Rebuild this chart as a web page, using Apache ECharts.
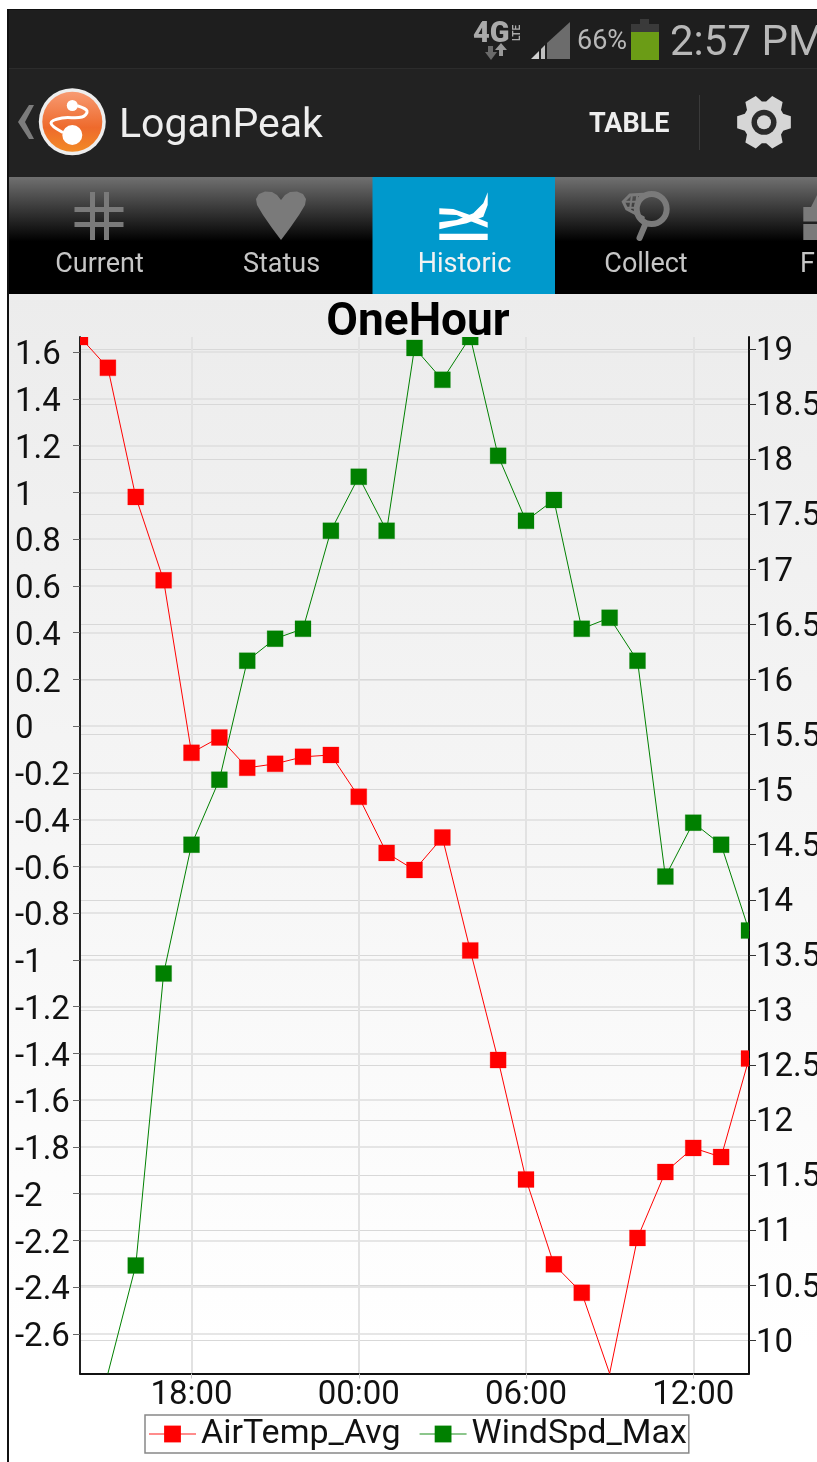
<!DOCTYPE html>
<html>
<head>
<meta charset="utf-8">
<style>
  html, body { margin: 0; padding: 0; background: #fff; overflow: hidden; }
  #chart { width: 817px; height: 1462px; }
</style>
<script src="https://cdn.jsdelivr.net/npm/echarts@6/dist/echarts.min.js"></script>
</head>
<body>
<div id="chart"></div>
<script>
const hours = ['14:00', '15:00', '16:00', '17:00', '18:00', '19:00', '20:00', '21:00', '22:00', '23:00',
  '00:00', '01:00', '02:00', '03:00', '04:00', '05:00', '06:00', '07:00', '08:00', '09:00',
  '10:00', '11:00', '12:00', '13:00', '14:00'];
const hourLabels = ['18:00', '00:00', '06:00', '12:00'];

const airTempAvg = [1.665, 1.533, 0.981, 0.624, -0.114, -0.048, -0.178, -0.161, -0.131, -0.123,
  -0.302, -0.542, -0.615, -0.476, -0.959, -1.428, -1.939, -2.302, -2.424, -2.769,
  -2.189, -1.907, -1.804, -1.843, -1.422];
const windSpdMax = [null, 9.699, 10.68, 13.33, 14.5, 15.09, 16.17, 16.37, 16.46, 17.35,
  17.84, 17.35, 19.01, 18.72, 19.109, 18.03, 17.44, 17.63, 16.46, 16.56,
  16.17, 14.21, 14.7, 14.5, 13.72];

const leftTicks = [1.6, 1.4, 1.2, 1, 0.8, 0.6, 0.4, 0.2, 0, -0.2, -0.4, -0.6, -0.8, -1, -1.2, -1.4,
  -1.6, -1.8, -2, -2.2, -2.4, -2.6];
const rightTicks = [19, 18.5, 18, 17.5, 17, 16.5, 16, 15.5, 15, 14.5, 14, 13.5, 13, 12.5, 12, 11.5,
  11, 10.5, 10];

const tabs = [['Current', 99.5], ['Status', 281.5], ['Collect', 646]];
const fontName = 'Roboto';

function rect(x, y, w, h, fill) {
  return { type: 'rect', z: -5, silent: true, shape: { x: x, y: y, width: w, height: h }, style: { fill: fill } };
}
function poly(points, fill) {
  return { type: 'polygon', z: -4, silent: true, shape: { points: points }, style: { fill: fill } };
}
function stroke(points, color, width, smooth) {
  return {
    type: 'polyline', z: -4, silent: true, shape: { points: points, smooth: smooth || 0 },
    style: { stroke: color, lineWidth: width, fill: null, lineCap: 'round' }
  };
}
function circle(cx, cy, r, fill) {
  return { type: 'circle', z: -4, silent: true, shape: { cx: cx, cy: cy, r: r }, style: { fill: fill } };
}
function label(text, x, y, size, color, align, weight) {
  return {
    type: 'text', z: -3, silent: true, x: x, y: y + size * 0.09,
    style: {
      text: text, x: 0, y: 0, fill: color, textAlign: align || 'left', textVerticalAlign: 'middle',
      font: (weight || 400) + ' ' + size + 'px ' + fontName
    }
  };
}
function gearPoints(cx, cy) {
  const pts = [];
  for (let k = 0; k < 6; k++) {
    const a = k * Math.PI / 3;
    [[21, -0.42], [27.5, -0.22], [27.5, 0.22], [21, 0.42]].forEach(p => {
      pts.push([cx + p[0] * Math.cos(a + p[1]), cy + p[0] * Math.sin(a + p[1])]);
    });
  }
  return pts;
}
function vertical(stops) {
  return { type: 'linear', x: 0, y: 0, x2: 0, y2: 1, colorStops: stops };
}

// phone chrome around the chart
const chrome = [
  rect(0, 0, 817, 1462, '#ffffff'),
  rect(9, 294, 808, 1168, vertical([{ offset: 0, color: '#ececec' }, { offset: 0.9, color: '#ffffff' }, { offset: 1, color: '#ffffff' }])),
  rect(9, 10, 808, 58, '#1e1e1e'),
  rect(9, 68, 808, 1, '#2c2c2c'),
  rect(9, 69, 808, 108, '#222222'),
  rect(9, 177, 808, 117, vertical([{ offset: 0, color: '#707070' }, { offset: 0.55, color: '#000000' }, { offset: 1, color: '#000000' }])),
  rect(372.5, 177, 182.5, 117, '#0099cc'),
  rect(7, 9, 810, 1, '#111111'),
  rect(7, 9, 2, 1453, '#111111'),

  // status bar
  label('4G', 473, 32, 29, '#aaaaaa', 'left', 900),
  {
    type: 'text', z: -3, silent: true, x: 517, y: 33, rotation: Math.PI / 2,
    style: { text: 'LTE', x: 0, y: 0, fill: '#aaaaaa', textAlign: 'center', textVerticalAlign: 'middle', font: '700 10px ' + fontName }
  },
  poly([[488, 46], [493, 46], [493, 52], [497, 52], [491, 60], [485, 52], [488, 52]], '#6a6a6a'),
  poly([[499, 56], [503, 56], [503, 50], [507, 50], [501, 43], [495, 50], [499, 50]], '#999999'),
  poly([[531, 59], [539, 51], [539, 59]], '#d0d0d0'),
  poly([[541, 59], [541, 49], [545, 45], [545, 59]], '#c0c0c0'),
  poly([[547, 59], [547, 43], [570, 22], [570, 59]], '#6c6c6c'),
  label('66%', 577, 40, 27, '#b8b8b8'),
  rect(640, 19, 9, 5, '#3a3a3a'),
  rect(631, 24, 28, 8, '#3a3a3a'),
  rect(631, 32, 28, 28, '#6b9c16'),
  label('2:57 PM', 670, 41, 42, '#b8b8b8', 'left', 400),

  // action bar
  poly([[29, 105], [34, 105], [25, 122], [34, 139], [29, 139], [18, 122]], '#7c7c7c'),
  circle(72.3, 121.7, 33.5, '#eeeeee'),
  circle(72.3, 121.7, 30, vertical([{ offset: 0, color: '#f79a72' }, { offset: 0.6, color: '#ee6a2c' }, { offset: 1, color: '#f28a26' }])),
  circle(72.3, 105.5, 5.5, '#ffffff'),
  circle(72.3, 135, 10, '#ffffff'),
  stroke([[78, 106], [87, 111], [82, 117], [62, 118], [51, 123], [62, 132]], '#ffffff', 3, 0.4),
  label('LoganPeak', 119, 123, 41, '#eeeeee', 'left', 400),
  label('TABLE', 589, 123, 27, '#eeeeee', 'left', 700),
  rect(699, 95, 1, 55, '#3a3a3a'),
  poly(gearPoints(764, 122.3), '#d6d6d6'),
  circle(764, 122.3, 12.5, '#2a2a2a'),
  circle(764, 122.3, 7, '#d6d6d6'),

  // tab bar icons
  rect(90, 192, 5, 48, '#7a7a7a'),
  rect(104, 192, 5, 48, '#7a7a7a'),
  rect(74.5, 207, 49, 5, '#7a7a7a'),
  rect(74.5, 222, 49, 5, '#7a7a7a'),
  poly([[281, 240], [272, 228], [263, 215], [257, 205], [256, 199], [259, 194], [265, 191.5], [272, 192], [277, 195], [281, 200],
    [285, 195], [290, 192], [297, 191.5], [303, 194], [306, 199], [305, 205], [299, 215], [290, 228]], '#7a7a7a'),
  rect(439.3, 233.7, 48.4, 6.3, '#ffffff'),
  poly([[439.3, 208.3], [453.3, 209], [470, 215], [487.7, 222.3], [487.7, 227.7], [473.3, 222.3], [456.7, 215], [439.3, 214.3]], '#ffffff'),
  poly([[439.3, 222.3], [456.7, 220], [473.3, 213.3], [483.3, 203.3], [487.7, 192.3], [487.7, 205], [483.3, 216.7], [466.7, 223.3], [450, 226.7], [439.3, 229.3]], '#ffffff'),
  {
    type: 'ring', z: -4, silent: true, shape: { cx: 651.7, cy: 209, r: 18, r0: 12 }, style: { fill: '#7a7a7a' }
  },
  stroke([[645, 225], [639.5, 238]], '#7a7a7a', 6),
  stroke([[643.3, 194.3], [630, 195], [623.3, 201.7], [626.7, 209], [643.3, 217.7]], '#7a7a7a', 3),
  stroke([[631.7, 196.7], [630, 210]], '#7a7a7a', 2),
  stroke([[637.3, 195], [635, 213.3]], '#7a7a7a', 2),
  stroke([[625, 201.7], [636, 201.7]], '#7a7a7a', 2),
  stroke([[626.7, 207.7], [636, 207.7]], '#7a7a7a', 2),
  rect(803.3, 207, 13.7, 14.5, '#7a7a7a'),
  rect(803.3, 224, 13.7, 16, '#7a7a7a'),
  poly([[811, 207], [817, 195], [817, 207]], '#7a7a7a'),

  label('Historic', 464.5, 263, 27, '#f2f2f2', 'center'),
  label('F', 800, 263, 27, '#c6c6c6')
];
tabs.forEach(t => chrome.push(label(t[0], t[1], 263, 27, '#c6c6c6', 'center')));

// square markers, clipped to the plot like the original. A point right on the floor gets none.
function squares(color) {
  return function (params, api) {
    const pt = api.coord([api.value(0), api.value(1)]);
    const box = params.coordSys;
    if (isNaN(pt[1]) || pt[1] >= box.y + box.height - 0.5) {
      return null;
    }
    return {
      type: 'rect',
      shape: { x: pt[0] - 8, y: pt[1] - 8, width: 16, height: 16 },
      style: { fill: color, stroke: color, lineWidth: 0.5, strokeOpacity: 0.5 }
    };
  };
}

const chart = echarts.init(document.getElementById('chart'), null, { renderer: 'canvas' });

chart.setOption({
  animation: false,
  textStyle: { fontFamily: fontName },
  graphic: { elements: chrome },
  title: {
    text: 'OneHour',
    left: 418,
    top: 300,
    padding: 0,
    textAlign: 'center',
    textStyle: { fontFamily: fontName, fontWeight: 700, fontSize: 46, color: '#000000' }
  },
  grid: { left: 80, right: 68, top: 337, bottom: 88.5, containLabel: false, outerBoundsMode: 'none' },
  legend: {
    data: ['AirTemp_Avg', 'WindSpd_Max'],
    left: 145,
    top: 1415,
    padding: [2, 2, 2, 3],
    itemWidth: 47,
    itemHeight: 21,
    itemGap: 18,
    backgroundColor: '#ffffff',
    borderColor: '#888888',
    borderWidth: 1.5,
    borderRadius: 0,
    lineStyle: { width: 2, opacity: 0.45 },
    textStyle: { fontFamily: fontName, fontSize: 34, color: '#111111', padding: 0 }
  },
  xAxis: {
    type: 'category',
    data: hours,
    boundaryGap: false,
    axisLine: { onZero: false, lineStyle: { color: '#111111', width: 2 } },
    axisTick: { length: 5, lineStyle: { color: '#cccccc' }, interval: (i, v) => hourLabels.includes(v) },
    splitLine: { show: true, lineStyle: { color: '#e2e2e2', width: 2 }, interval: (i, v) => hourLabels.includes(v) },
    axisLabel: {
      interval: (i, v) => hourLabels.includes(v),
      margin: 6,
      fontFamily: fontName,
      fontSize: 33,
      color: '#111111'
    }
  },
  yAxis: [
    {
      type: 'value',
      position: 'left',
      min: -2.769,
      max: 1.665,
      axisLine: { show: true, onZero: false, lineStyle: { color: '#222222', width: 2 } },
      axisTick: { show: true, length: 7, customValues: leftTicks, lineStyle: { color: '#666666' } },
      splitLine: { show: true, lineStyle: { color: '#dedede', width: 1.5 } },
      axisLabel: {
        customValues: leftTicks,
        formatter: v => String(v),
        align: 'left',
        margin: 65,
        // short line box hung from the tick: puts the digits a little below it, as in the original
        verticalAlign: 'top',
        lineHeight: 8,
        fontFamily: fontName,
        fontSize: 33,
        color: '#111111'
      }
    },
    {
      type: 'value',
      position: 'right',
      min: 9.699,
      max: 19.109,
      axisLine: { show: true, onZero: false, lineStyle: { color: '#111111', width: 2 } },
      axisTick: { show: true, length: 7, customValues: rightTicks, lineStyle: { color: '#333333' } },
      splitLine: { show: true, lineStyle: { color: '#d8d8d8', width: 1.2 } },
      axisLabel: {
        customValues: rightTicks,
        formatter: v => String(v),
        margin: 7,
        verticalAlign: 'top',
        lineHeight: 6,
        fontFamily: fontName,
        fontSize: 33,
        color: '#111111'
      }
    }
  ],
  series: [
    {
      name: 'AirTemp_Avg',
      type: 'line',
      yAxisIndex: 0,
      data: airTempAvg,
      symbol: 'rect',
      showSymbol: false,
      itemStyle: { color: '#ff0000' },
      lineStyle: { color: '#ff0000', width: 1 }
    },
    {
      name: 'WindSpd_Max',
      type: 'line',
      yAxisIndex: 1,
      data: windSpdMax,
      symbol: 'rect',
      showSymbol: false,
      itemStyle: { color: '#008000' },
      lineStyle: { color: '#008000', width: 1 }
    },
    {
      name: 'AirTemp_Avg',
      type: 'custom',
      yAxisIndex: 0,
      clip: true,
      renderItem: squares('#ff0000'),
      encode: { x: 0, y: 1 },
      data: airTempAvg.map((v, i) => [i, v])
    },
    {
      name: 'WindSpd_Max',
      type: 'custom',
      yAxisIndex: 1,
      clip: true,
      renderItem: squares('#008000'),
      encode: { x: 0, y: 1 },
      data: windSpdMax.map((v, i) => [i, v])
    }
  ]
});
</script>
</body>
</html>
